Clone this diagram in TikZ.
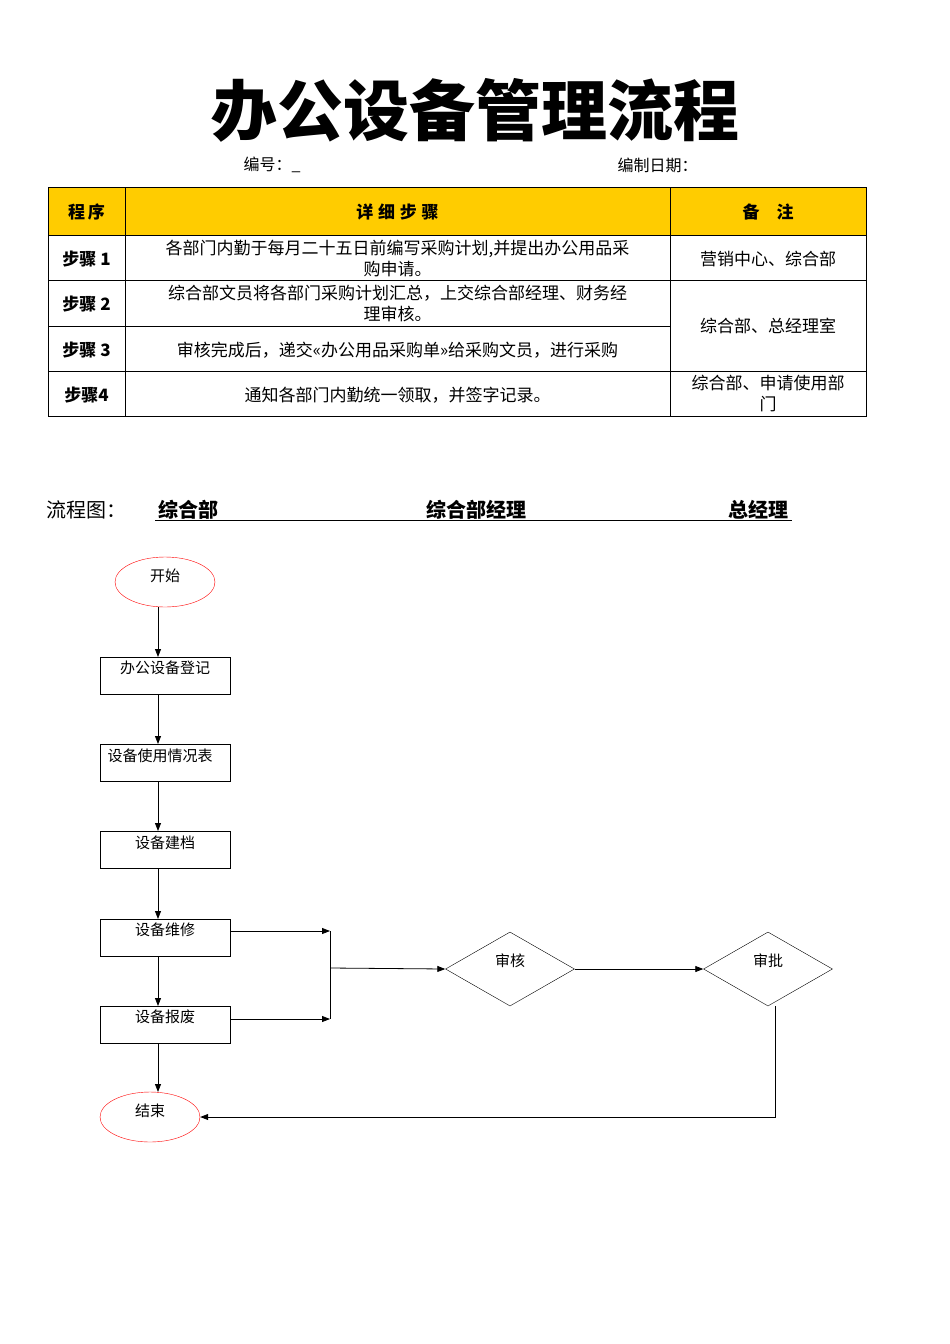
\documentclass[tikz,border=0pt]{standalone}
\usepackage{fontspec}
\setmainfont{Noto Sans CJK SC}
\usetikzlibrary{shapes.geometric,arrows.meta}
\definecolor{hdr}{HTML}{FFCC00}
\begin{document}
\begin{tikzpicture}[x=1pt,y=-1pt,
  cell/.style={font=\fontsize{17}{19}\selectfont,align=center},
  bcell/.style={font=\fontsize{17}{19}\selectfont\bfseries,align=center},
  fbox/.style={draw,minimum width=130pt,minimum height=37pt,inner sep=0pt},
  ftxt/.style={font=\fontsize{15}{17}\selectfont},
  oval/.style={draw=red,ellipse,minimum width=100pt,minimum height=50pt,inner sep=0pt},
  dia/.style={draw,diamond,minimum width=129pt,minimum height=74pt,inner sep=0pt,aspect=1.75},
  arr/.style={-{Triangle[length=8pt,width=6pt]},line width=0.8pt},
  ln/.style={line width=0.8pt}]
\useasboundingbox (0,0) rectangle (950,1344);
\node[font=\fontsize{66}{70}\selectfont\bfseries] (title) at (475,110) {办公设备管理流程};
\node[font=\fontsize{16}{18}\selectfont,anchor=west] (bh) at (240,165) {编号：\_};
\node[font=\fontsize{16}{18}\selectfont,anchor=west] (rq) at (614,165) {编制日期：};
% table
\fill[hdr] (48,187) rectangle (866,235);
\draw[line width=0.8pt] (48,187) rectangle (866,416);
\foreach \x in {125,670} \draw (\x,187) -- (\x,416);
\foreach \y in {235,280,371} \draw (48,\y) -- (866,\y);
\draw (48,326) -- (670,326);
\node[bcell] (h1) at (86.5,212) {程\,序};
\node[bcell] (h2) at (397.5,212) {详\;细\;步\;骤};
\node[bcell] (h3) at (768,212) {备\quad 注};
\node[bcell] (s1) at (86.5,259) {步骤 1};
\node[bcell] (s2) at (86.5,304) {步骤 2};
\node[bcell] (s3) at (86.5,350) {步骤 3};
\node[bcell] (s4) at (86.5,395) {步骤4};
\node[cell,font=\fontsize{17}{21}\selectfont] (d1) at (397.5,258) {各部门内勤于每月二十五日前编写采购计划,并提出办公用品采\\购申请。};
\node[cell,font=\fontsize{17}{21}\selectfont] (d2) at (397.5,303) {综合部文员将各部门采购计划汇总，上交综合部经理、财务经\\理审核。};
\node[cell] (d3) at (397.5,350) {审核完成后，递交<<办公用品采购单>>给采购文员，进行采购};
\node[cell] (d4) at (397.5,395) {通知各部门内勤统一领取，并签字记录。};
\node[cell] (r1) at (768,259) {营销中心、综合部};
\node[cell] (r2) at (768,326) {综合部、总经理室};
\node[cell,font=\fontsize{17}{21}\selectfont] (r3) at (768,393) {综合部、申请使用部\\门};
% flow header
\node[font=\fontsize{20}{22}\selectfont,anchor=west] (lct) at (43,510) {流程图：};
\draw[line width=0.8pt] (155,520) -- (792,520);
\node[font=\fontsize{20}{22}\selectfont\bfseries,anchor=west] (l1) at (155,510) {综合部};
\node[font=\fontsize{20}{22}\selectfont\bfseries,anchor=west] (l2) at (423,510) {综合部经理};
\node[font=\fontsize{20}{22}\selectfont\bfseries,anchor=west] (l3) at (725,510) {总经理};
% flowchart
\node[oval] (start) at (165,582) {};
\node[ftxt] at (165,576) {开始};
\node[fbox] (b1) at (165,675.5) {};
\node[ftxt] at (165,668) {办公设备登记};
\node[fbox] (b2) at (165,763) {};
\node[ftxt] at (160,756) {设备使用情况表};
\node[fbox] (b3) at (165,850) {};
\node[ftxt] at (165,843) {设备建档};
\node[fbox] (b4) at (165,937.5) {};
\node[ftxt] at (165,930) {设备维修};
\node[fbox] (b5) at (165,1024.5) {};
\node[ftxt] at (165,1017) {设备报废};
\node[oval] (end) at (150,1117) {};
\node[ftxt] at (150,1111) {结束};
\node[dia] (sh) at (510,969) {};
\node[ftxt] at (510,961) {审核};
\node[dia] (sp) at (768,969) {};
\node[ftxt] at (768,961) {审批};
\coordinate (j1) at (330,931);
\coordinate (j2) at (330,1019);
\coordinate (jm) at (330,968);
\coordinate (ec) at (775,1117);
\draw[arr] (158,607) -- (158,657);
\draw[arr] (158,694) -- (158,744);
\draw[arr] (158,782) -- (158,831);
\draw[arr] (158,869) -- (158,919);
\draw[arr] (158,956) -- (158,1006);
\draw[arr] (158,1043) -- (158,1092);
\draw[arr] (b4.east |- j1) -- (j1);
\draw[arr] (b5.east |- j2) -- (j2);
\draw[ln] (j1) -- (j2);
\draw[arr] (jm) -- (sh.west);
\draw[arr] (sh.east) -- (sp.west);
\draw[arr] (775,1006) -- (ec) -- (end.east);
\end{tikzpicture}
\end{document}
